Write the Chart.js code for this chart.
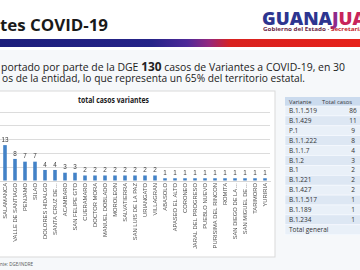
<!DOCTYPE html>
<html>
<head>
<meta charset="utf-8">
<script src="https://cdn.jsdelivr.net/npm/chart.js@4/dist/chart.umd.min.js"></script>
<style>
  html, body { margin:0; padding:0; }
  body { width:360px; height:270px; overflow:hidden; position:relative; background:#f6f8fa; font-family:"Open Sans", sans-serif; }
  #bg { position:absolute; left:0; top:0; }
  #wrap { position:absolute; left:0; top:92px; width:275px; height:165px; }
</style>
</head>
<body>
<svg id="bg" width="360" height="270" xmlns="http://www.w3.org/2000/svg"></svg>
<div id="wrap"><canvas id="c" width="275" height="165"></canvas></div>
<script>
// ---- data ----
const categories = ['SALAMANCA','VALLE DE SANTIAGO','PENJAMO','SILAO','DOLORES HIDALGO','SANTA CRUZ DE…','ACAMBARO','SAN FELIPE GTO','CUERAMARO','DOCTOR MORA','MANUEL DOBLADO','MOROLEON','SALVATIERRA','SAN LUIS DE LA PAZ','URIANGATO','VILLAGRAN','ABASOLO','APASEO EL ALTO','CORONEO','JARAL DEL PROGRESO','PUEBLO NUEVO','PURISIMA DEL RINCON','ROMITA','SAN DIEGO DE LA…','SAN MIGUEL DE…','TARIMORO','YURIRIA'];
const casos = [13,8,7,7,4,4,3,3,2,2,2,2,2,2,2,2,1,1,1,1,1,1,1,1,1,1,1];
const yMax = 25;
const yStep = 5;
const variantes = ['B.1.1.519','B.1.429','P.1','B.1.1.222','B.1.1.7','B.1.2','B.1','B.1.221','B.1.427','B.1.1.517','B.1.189','B.1.234'];
const casosVariante = [86,11,9,8,4,3,2,2,2,1,1,1];
const tablaHeader = ['Variante','Total casos'];
const totalLabel = 'Total general';
const chartTitle = 'total casos variantes';

// ---- static page (svg) ----
const NS = 'http://www.w3.org/2000/svg';
const svg = document.getElementById('bg');
function el(tag, attrs, parent) {
  const e = document.createElementNS(NS, tag);
  for (const k in attrs) e.setAttribute(k, attrs[k]);
  (parent || svg).appendChild(e);
  return e;
}
function txt(s, attrs, parent) { const t = el('text', attrs, parent); t.textContent = s; return t; }

// header white area
el('rect', {x:0, y:0, width:360, height:50, fill:'#ffffff'});
// gradient band
const defs = el('defs', {});
const lg = el('linearGradient', {id:'band', x1:'0', y1:'0', x2:'1', y2:'0'}, defs);
[[0,'#1d1f7c'],[0.42,'#262488'],[0.52,'#4f2a98'],[0.58,'#93287f'],[0.64,'#d9221f'],[1,'#e7231b']].forEach(s => el('stop', {offset:s[0], 'stop-color':s[1]}, lg));
el('rect', {x:0, y:39, width:360, height:8, fill:'url(#band)'});

// title
txt('tes COVID-19', {x:0, y:31, 'font-family':'Open Sans', 'font-weight':'700', 'font-size':16, fill:'#1a1a1a', textLength:108, lengthAdjust:'spacingAndGlyphs'});

// logo
const logo = el('text', {x:262, y:25, 'font-family':'Open Sans', 'font-weight':'800', 'font-size':18, textLength:104, lengthAdjust:'spacingAndGlyphs'});
const l1 = el('tspan', {fill:'#2d3590'}, logo); l1.textContent = 'GUANA';
const l2 = el('tspan', {fill:'#8e2a8c'}, logo); l2.textContent = 'J';
const l3 = el('tspan', {fill:'#c8245a'}, logo); l3.textContent = 'UA';
const sub = el('text', {x:263, y:31, 'font-family':'Open Sans', 'font-weight':'700', 'font-size':5.5, textLength:100, lengthAdjust:'spacingAndGlyphs'});
const s1 = el('tspan', {fill:'#6a1f45'}, sub); s1.textContent = 'Gobierno del Estado · ';
const s2 = el('tspan', {fill:'#c4232a'}, sub); s2.textContent = 'Secretaría';

// paragraph
const p1 = el('text', {x:1, y:71, 'font-family':'Open Sans', 'font-size':11, fill:'#222', textLength:344, lengthAdjust:'spacingAndGlyphs'});
const p1a = el('tspan', {}, p1); p1a.textContent = 'portado por parte de la DGE ';
const p1b = el('tspan', {'font-weight':'700', 'font-size':12.5}, p1); p1b.textContent = '130';
const p1c = el('tspan', {}, p1); p1c.textContent = ' casos de Variantes a COVID-19, en 30';
txt('os de la entidad, lo que representa un 65% del territorio estatal.', {x:2, y:82, 'font-family':'Open Sans', 'font-size':11, fill:'#222', textLength:303, lengthAdjust:'spacingAndGlyphs'});

// chart panel
el('rect', {x:-1, y:91, width:276, height:166, fill:'#ffffff', stroke:'#d9d9d9', 'stroke-width':1});
txt(chartTitle, {x:78, y:103, 'font-family':'Open Sans', 'font-weight':'700', 'font-size':8.3, fill:'#1a1a1a', textLength:71, lengthAdjust:'spacingAndGlyphs'});
txt('nte: DGE/INDRE', {x:0, y:266, 'font-family':'Open Sans', 'font-size':4.8, fill:'#555', textLength:33, lengthAdjust:'spacingAndGlyphs'});

// table
const tx0 = 285, tx1 = 320, tx2 = 364, ty0 = 97, hH = 9, rH = 9.9;
el('rect', {x:tx0, y:ty0, width:tx2-tx0, height:hH, fill:'#cbdbee'});
txt(tablaHeader[0], {x:289, y:ty0+6.6, 'font-family':'Open Sans', 'font-size':5.8, fill:'#333'});
txt(tablaHeader[1], {x:322, y:ty0+6.6, 'font-family':'Open Sans', 'font-size':5.8, fill:'#333'});
const rows = variantes.map((v,i) => [v, String(casosVariante[i])]).concat([[totalLabel, '']]);
rows.forEach((r, i) => {
  const y = ty0 + hH + i*rH;
  el('rect', {x:tx0, y:y, width:tx2-tx0, height:rH, fill: i%2===0 ? '#e9f0f8' : '#dde7f3', stroke:'#f7faff', 'stroke-width':0.6});
  txt(r[0], {x:289, y:y+7, 'font-family':'Open Sans', 'font-size':6.5, fill:'#333'});
  if (r[1]) txt(r[1], {x:353, y:y+7, 'text-anchor':'middle', 'font-family':'Open Sans', 'font-size':6.5, fill:'#333'});
});

// ---- chart ----
const valueLabels = {
  id:'valueLabels',
  afterDatasetsDraw(chart) {
    const ctx = chart.ctx;
    const meta = chart.getDatasetMeta(0);
    ctx.save();
    ctx.font = '6.3px "Liberation Sans", sans-serif';
    ctx.fillStyle = '#404040';
    ctx.textAlign = 'center';
    ctx.textBaseline = 'bottom';
    meta.data.forEach((bar, i) => {
      ctx.fillText(String(chart.data.datasets[0].data[i]), bar.x, bar.y - 2);
    });
    ctx.restore();
  }
};

new Chart(document.getElementById('c'), {
  type:'bar',
  data:{ labels:categories, datasets:[{ data:casos, backgroundColor:'#4382c7', barPercentage:0.42, categoryPercentage:0.85 }] },
  options:{
    responsive:false, animation:false, devicePixelRatio:1,
    layout:{ padding:{ top:20, right:5, left:0, bottom:0 } },
    plugins:{ legend:{display:false}, tooltip:{enabled:false}, title:{display:false} },
    scales:{
      x:{
        grid:{ display:false, drawTicks:false },
        border:{ display:true, color:'#d9d9d9' },
        ticks:{ autoSkip:false, minRotation:90, maxRotation:90, padding:2, color:'#505050', font:{ family:'Liberation Sans', size:5.8 } },
        afterFit(s){ s.height = 76; }
      },
      y:{
        min:0, max:yMax,
        ticks:{ display:false, stepSize:yStep },
        grid:{ color:'#dcdcdc', drawTicks:false },
        border:{ display:false },
        afterFit(s){ s.width = 0; }
      }
    }
  },
  plugins:[valueLabels]
});
</script>
</body>
</html>
